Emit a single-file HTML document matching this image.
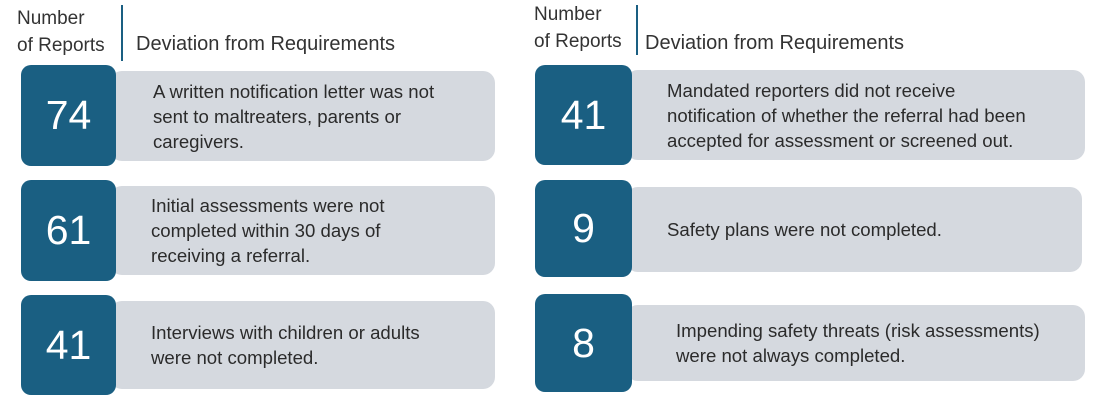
<!DOCTYPE html>
<html><head><style>
body{margin:0;width:1100px;height:415px;background:#fff;position:relative;overflow:hidden;font-family:"Liberation Sans",sans-serif;color:#2b2b2b}
.d{position:absolute;background:#1a5f82;border-radius:10px;color:#fff;font-size:41px;display:flex;align-items:center;justify-content:center;z-index:2}
.g{position:absolute;background:#d5d9df;border-radius:12px;font-size:18.6px;line-height:25px;display:flex;align-items:center;box-sizing:border-box;white-space:nowrap}
.h{position:absolute;font-size:20px;line-height:27px;color:#333}
.h2{position:absolute;font-size:19px;line-height:27px;color:#333}
.v{position:absolute;width:2px;background:#1a5f82}
</style></head><body>
<div class="h2" style="left:17px;top:5px">Number<br>of Reports</div>
<div class="v" style="left:121px;top:5px;height:56px"></div>
<div class="h" style="left:136px;top:31px">Deviation from Requirements</div>
<div class="h2" style="left:534px;top:1px">Number<br>of Reports</div>
<div class="v" style="left:636px;top:5px;height:50px"></div>
<div class="h" style="left:645px;top:30px">Deviation from Requirements</div>

<div class="d" style="left:21px;top:65px;width:95px;height:101px">74</div>
<div class="g" style="left:110px;top:71px;width:385px;height:90px;padding-left:43px">A written notification letter was not<br>sent to maltreaters, parents or<br>caregivers.</div>
<div class="d" style="left:21px;top:180px;width:95px;height:101px">61</div>
<div class="g" style="left:110px;top:186px;width:385px;height:89px;padding-left:41px">Initial assessments were not<br>completed within 30 days of<br>receiving a referral.</div>
<div class="d" style="left:21px;top:295px;width:95px;height:100px">41</div>
<div class="g" style="left:110px;top:301px;width:385px;height:88px;padding-left:41px">Interviews with children or adults<br>were not completed.</div>

<div class="d" style="left:535px;top:65px;width:97px;height:100px">41</div>
<div class="g" style="left:626px;top:70px;width:459px;height:90px;padding-left:41px">Mandated reporters did not receive<br>notification of whether the referral had been<br>accepted for assessment or screened out.</div>
<div class="d" style="left:535px;top:180px;width:97px;height:97px">9</div>
<div class="g" style="left:626px;top:187px;width:456px;height:85px;padding-left:41px">Safety plans were not completed.</div>
<div class="d" style="left:535px;top:294px;width:97px;height:98px">8</div>
<div class="g" style="left:626px;top:305px;width:459px;height:76px;padding-left:50px">Impending safety threats (risk assessments)<br>were not always completed.</div>
</body></html>
